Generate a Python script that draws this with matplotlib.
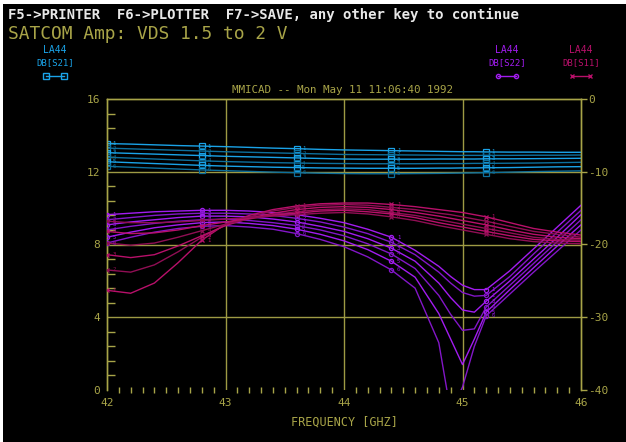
import matplotlib
matplotlib.use("Agg")
import matplotlib.pyplot as plt
from matplotlib.patches import Rectangle
from matplotlib.ticker import MultipleLocator, FixedLocator
from matplotlib.lines import Line2D

# ---------------- data ----------------
freq = [42.0, 42.2, 42.4, 42.6, 42.8, 43.0, 43.2, 43.4, 43.6, 43.8, 44.0, 44.2,
        44.4, 44.6, 44.8, 44.9, 45.0, 45.1, 45.2, 45.4, 45.6, 45.8, 46.0]
marker_freqs = [42.0, 42.8, 43.6, 44.4, 45.2]
curve_labels = ["1", "2", "3", "4", "5", "6"]

# DB[S21] (left axis)
s21 = [
    [13.55, 13.52, 13.48, 13.44, 13.41, 13.38, 13.34, 13.30, 13.27, 13.23, 13.20, 13.18,
     13.16, 13.14, 13.12, 13.11, 13.10, 13.10, 13.09, 13.08, 13.08, 13.07, 13.07],
    [13.30, 13.26, 13.22, 13.18, 13.14, 13.10, 13.07, 13.04, 13.01, 12.98, 12.95, 12.94,
     12.93, 12.92, 12.91, 12.90, 12.90, 12.90, 12.90, 12.90, 12.91, 12.91, 12.92],
    [13.05, 13.01, 12.97, 12.93, 12.89, 12.85, 12.82, 12.79, 12.76, 12.73, 12.70, 12.69,
     12.69, 12.69, 12.70, 12.70, 12.70, 12.70, 12.71, 12.71, 12.72, 12.73, 12.74],
    [12.80, 12.75, 12.70, 12.65, 12.60, 12.56, 12.53, 12.50, 12.48, 12.46, 12.45, 12.44,
     12.44, 12.44, 12.45, 12.45, 12.45, 12.46, 12.46, 12.47, 12.48, 12.50, 12.52],
    [12.55, 12.50, 12.45, 12.40, 12.35, 12.31, 12.28, 12.25, 12.23, 12.21, 12.20, 12.19,
     12.19, 12.19, 12.20, 12.20, 12.21, 12.21, 12.22, 12.23, 12.25, 12.27, 12.28],
    [12.30, 12.25, 12.20, 12.15, 12.10, 12.06, 12.02, 11.98, 11.95, 11.92, 11.90, 11.89,
     11.89, 11.90, 11.91, 11.92, 11.93, 11.94, 11.95, 11.98, 12.01, 12.03, 12.05],
]

# DB[S22] (right axis)
s22 = [
    [-15.9, -15.7, -15.5, -15.4, -15.3, -15.3, -15.4, -15.6, -15.9, -16.4, -17.0, -17.9,
     -19.0, -20.8, -23.0, -24.4, -25.6, -26.2, -26.2, -23.6, -20.6, -17.6, -14.6],
    [-16.6, -16.3, -16.0, -15.8, -15.7, -15.7, -15.8, -16.0, -16.4, -16.9, -17.6, -18.5,
     -19.7, -21.4, -23.8, -25.3, -26.6, -27.1, -27.0, -24.4, -21.3, -18.3, -15.3],
    [-17.3, -16.9, -16.6, -16.3, -16.1, -16.1, -16.2, -16.5, -16.9, -17.5, -18.2, -19.2,
     -20.5, -22.3, -25.3, -27.3, -29.0, -29.3, -27.8, -25.0, -22.0, -19.0, -15.9],
    [-18.0, -17.5, -17.1, -16.8, -16.6, -16.5, -16.7, -17.0, -17.4, -18.0, -18.8, -19.9,
     -21.3, -23.3, -27.0, -29.6, -31.8, -31.6, -28.6, -25.6, -22.6, -19.6, -16.6],
    [-19.0, -18.3, -17.7, -17.3, -17.0, -16.9, -17.1, -17.4, -17.9, -18.6, -19.5, -20.7,
     -22.3, -24.5, -29.5, -33.0, -36.5, -33.0, -29.3, -26.2, -23.2, -20.2, -17.3],
    [-19.8, -19.0, -18.3, -17.8, -17.5, -17.4, -17.6, -17.9, -18.5, -19.3, -20.3, -21.7,
     -23.5, -26.0, -33.5, -43.0, -39.6, -34.0, -29.8, -26.8, -23.8, -20.9, -18.0],
]

# DB[S11] (right axis)
s11 = [
    [-26.3, -26.7, -25.3, -22.5, -19.4, -17.2, -16.0, -15.2, -14.7, -14.4, -14.3, -14.3,
     -14.5, -14.8, -15.2, -15.4, -15.6, -15.9, -16.2, -17.0, -17.8, -18.3, -18.7],
    [-23.5, -23.8, -22.8, -21.0, -19.0, -17.3, -16.2, -15.4, -14.9, -14.6, -14.5, -14.6,
     -14.9, -15.2, -15.7, -15.9, -16.2, -16.5, -16.8, -17.5, -18.2, -18.6, -19.0],
    [-21.4, -21.8, -21.4, -20.2, -18.8, -17.4, -16.4, -15.7, -15.2, -14.9, -14.8, -14.9,
     -15.2, -15.6, -16.1, -16.4, -16.7, -17.0, -17.3, -18.0, -18.6, -19.0, -19.2],
    [-19.8, -20.1, -19.8, -19.0, -18.1, -17.2, -16.5, -15.9, -15.5, -15.2, -15.1, -15.2,
     -15.6, -16.0, -16.6, -16.9, -17.2, -17.5, -17.8, -18.4, -19.0, -19.3, -19.4],
    [-18.2, -18.5, -18.4, -18.0, -17.4, -16.9, -16.4, -16.0, -15.7, -15.4, -15.3, -15.5,
     -15.8, -16.3, -17.0, -17.3, -17.6, -17.9, -18.2, -18.8, -19.3, -19.5, -19.6],
    [-16.8, -17.0, -17.0, -16.9, -16.7, -16.5, -16.3, -16.1, -15.9, -15.7, -15.6, -15.8,
     -16.2, -16.7, -17.4, -17.7, -18.0, -18.3, -18.6, -19.2, -19.6, -19.8, -19.9],
]

left_ticks = [0, 4, 8, 12, 16]
right_ticks = [0, -10, -20, -30, -40]
x_ticks = [42, 43, 44, 45, 46]

# ---------------- style ----------------
W, H = 626, 442
OLIVE = "#A8A448"
GRIDC = "#9E9A44"
BLUE = ["#1AA3E8", "#0D6F9C"]
PURPLE = ["#A21CF0", "#8316C8"]
MAG = ["#B8106A", "#900E54"]
MONO = "DejaVu Sans Mono"

fig = plt.figure(figsize=(W / 100, H / 100), dpi=100, facecolor="white")
fig.patches.append(Rectangle((3 / W, 0), 1, (H - 4) / H, transform=fig.transFigure,
                             facecolor="black", edgecolor="none", zorder=-10))

def px(x0, y0, x1, y1):
    return [x0 / W, 1 - y1 / H, (x1 - x0) / W, (y1 - y0) / H]

ax = fig.add_axes(px(107, 99, 581, 390))
ax.set_facecolor("none")
ax2 = ax.twinx()
ax2.set_facecolor("none")

ax.set_xlim(42, 46)
ax.set_ylim(0, 16)
ax2.set_ylim(-40, 0)

for a in (ax, ax2):
    for s in a.spines.values():
        s.set_color(OLIVE)
        s.set_linewidth(1.0)
    a.spines["bottom"].set_visible(False)

# gridlines
for g in [43, 44, 45]:
    ax.axvline(g, color=GRIDC, lw=1.0, zorder=1)
for g in [4, 8, 12]:
    ax.axhline(g, color=GRIDC, lw=1.0, zorder=1)

ax.xaxis.set_major_locator(FixedLocator(x_ticks))
ax.xaxis.set_minor_locator(MultipleLocator(0.1))
ax.yaxis.set_major_locator(FixedLocator(left_ticks))
ax.yaxis.set_minor_locator(MultipleLocator(0.8))
ax2.yaxis.set_major_locator(FixedLocator(right_ticks))
ax2.yaxis.set_minor_locator(FixedLocator([]))

ax.tick_params(axis="x", which="major", length=0, pad=6, labelsize=8, labelcolor=OLIVE)
ax.tick_params(axis="x", which="minor", direction="inout", length=5, color=OLIVE, width=1)
ax.tick_params(axis="y", which="major", length=0, pad=5, labelsize=8, labelcolor=OLIVE)
ax.tick_params(axis="y", which="minor", direction="in", length=6, color=OLIVE, width=1)
ax.tick_params(axis="y", which="minor", right=False)
ax2.tick_params(axis="y", which="major", direction="out", length=4, color=OLIVE, width=1,
                pad=1, labelsize=8, labelcolor=OLIVE)

ax.set_xticklabels([str(t) for t in x_ticks], family=MONO)
ax.set_yticklabels([str(t) for t in left_ticks], family=MONO)
ax2.set_yticklabels([str(t) for t in right_ticks], family=MONO)

ax.set_xlabel("FREQUENCY [GHZ]", color=OLIVE, fontsize=8.5, family=MONO, labelpad=5)

mk_idx = [freq.index(f) for f in marker_freqs]

def draw(axis, curves, colors, marker, ms):
    for k, vals in enumerate(curves):
        c = colors[k % 2]
        axis.plot(freq, vals, color=c, lw=1.0, zorder=3,
                  marker=marker, markevery=mk_idx, markersize=ms,
                  markerfacecolor="none", markeredgecolor=c, markeredgewidth=0.9)
        for i in mk_idx:
            if vals[i] > axis.get_ylim()[0]:
                axis.annotate(curve_labels[k], (freq[i], vals[i]), xytext=(4, 0),
                              textcoords="offset points", fontsize=4, color=c,
                              family=MONO, va="center", zorder=4, annotation_clip=True)

draw(ax, s21, BLUE, "s", 4)
draw(ax2, s22, PURPLE, "o", 3)
draw(ax2, s11, MAG, "x", 3.5)

# ---------------- texts ----------------
def ftext(x, y, s, **kw):
    fig.text(x / W, 1 - y / H, s, **kw)

ftext(8, 15, "F5->PRINTER  F6->PLOTTER  F7->SAVE, any other key to continue",
      color="#E8E8E8", fontsize=10.1, family=MONO, weight="bold", va="center", ha="left")
ftext(8, 34, "SATCOM Amp: VDS 1.5 to 2 V", color=OLIVE, fontsize=12.9,
      family=MONO, va="center", ha="left")
ftext(343, 90, "MMICAD -- Mon May 11 11:06:40 1992", color=OLIVE, fontsize=7.8,
      family=MONO, va="center", ha="center")

legend_items = [
    (55, "DB[S21]", BLUE[0], "s", 4),
    (507, "DB[S22]", PURPLE[0], "o", 3),
    (581, "DB[S11]", MAG[0], "x", 3.5),
]
for cx, name, c, m, ms in legend_items:
    ftext(cx, 50, "LA44", color=c, fontsize=7, family=MONO, ha="center", va="center")
    ftext(cx, 63, name, color=c, fontsize=6.5, family=MONO, ha="center", va="center")
    fig.add_artist(Line2D([(cx - 9) / W, (cx + 9) / W], [1 - 76 / H, 1 - 76 / H],
                          transform=fig.transFigure, color=c, lw=1, marker=m,
                          markersize=ms, markerfacecolor="none", markeredgecolor=c))

fig.savefig("out.png", dpi=100, facecolor=fig.get_facecolor())
